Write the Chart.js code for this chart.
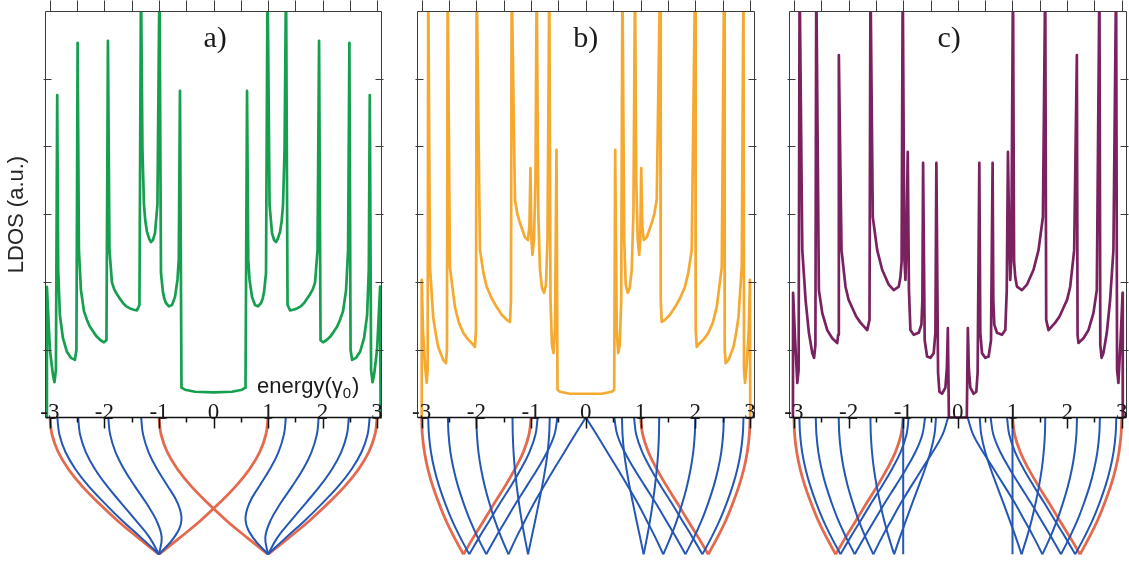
<!DOCTYPE html>
<html>
<head>
<meta charset="utf-8">
<script src="https://cdn.jsdelivr.net/npm/chart.js@4.4.0/dist/chart.umd.min.js"></script>
<style>
  html, body { margin: 0; padding: 0; background: #fff; }
  body { width: 1129px; height: 563px; position: relative; overflow: hidden; }
  canvas.panel { position: absolute; top: 0; }
</style>
</head>
<body>
<canvas id="panelA" class="panel" width="392" height="563" style="left:0px"></canvas>
<canvas id="panelB" class="panel" width="392" height="563" style="left:372px"></canvas>
<canvas id="panelC" class="panel" width="385" height="563" style="left:744px"></canvas>
<script>
// axis ticks
const energyTicks = [-3, -2, -1, 0, 1, 2, 3];
const halfTicks = [-2.5, -1.5, -0.5, 0.5, 1.5, 2.5];
const ldosTicks = [1, 2, 3, 4, 5];

// depth below the energy axis where band energies are sampled (k = 0 at the axis, k = pi at the bottom)
const kDepth = [0, -0.25, -0.51, -0.76, -1.01, -1.26, -1.52, -1.77, -2.02];

// LDOS curves, [energy, ldos]
const ldosA = [
  [-3.064,0],[-3.055,1.93],[-3.0,1.0],[-2.945,0.63],[-2.917,0.52],[-2.89,0.7],[-2.866,4.76],[-2.848,2.18],[-2.817,1.51],
  [-2.761,1.17],[-2.688,0.97],[-2.615,0.88],[-2.541,0.85],[-2.514,1.0],[-2.492,5.53],[-2.468,2.47],[-2.431,1.88],
  [-2.376,1.57],[-2.32,1.44],[-2.266,1.34],[-2.2,1.26],[-2.138,1.19],[-2.07,1.14],[-2.009,1.11],[-1.963,1.14],[-1.936,5.56],[-1.908,2.47],[-1.862,1.99],
  [-1.82,1.89],[-1.771,1.82],[-1.661,1.69],[-1.6,1.64],[-1.532,1.61],[-1.46,1.59],[-1.404,1.58],[-1.358,1.66],[-1.33,6.5],[-1.303,3.95],[-1.275,3.14],
  [-1.25,2.9],[-1.22,2.74],[-1.18,2.64],[-1.147,2.59],[-1.11,2.62],[-1.073,2.72],[-1.028,3.14],[-0.991,6.5],[-0.963,2.13],[-0.927,1.85],[-0.9,1.75],[-0.872,1.69],
  [-0.817,1.64],[-0.761,1.66],[-0.706,1.78],[-0.661,2.03],[-0.637,2.33],[-0.615,4.82],[-0.587,0.44],[-0.523,0.41],
  [-0.339,0.38],[0,0.37],
  [0.339,0.38],[0.523,0.41],[0.587,0.44],[0.615,4.82],[0.637,2.33],[0.661,2.03],[0.706,1.78],[0.761,1.66],
  [0.817,1.64],[0.872,1.69],[0.9,1.75],[0.927,1.85],[0.963,2.13],[0.991,6.5],[1.028,3.14],[1.073,2.72],[1.11,2.62],[1.147,2.59],
  [1.18,2.64],[1.22,2.74],[1.25,2.9],[1.275,3.14],[1.303,3.95],[1.33,6.5],[1.358,1.66],[1.404,1.58],[1.46,1.59],[1.532,1.61],[1.6,1.64],[1.661,1.69],
  [1.771,1.82],[1.82,1.89],[1.862,1.99],[1.908,2.47],[1.936,5.56],[1.963,1.14],[2.009,1.11],[2.07,1.14],[2.138,1.19],[2.2,1.26],[2.266,1.34],[2.32,1.44],
  [2.376,1.57],[2.431,1.88],[2.468,2.47],[2.492,5.53],[2.514,1.0],[2.541,0.85],[2.615,0.88],[2.688,0.97],
  [2.761,1.17],[2.817,1.51],[2.848,2.18],[2.866,4.76],[2.89,0.7],[2.917,0.52],[2.945,0.63],[3.0,1.0],
  [3.055,1.93],[3.064,0]
];

const ldosB = [
  [-3.003,0],[-2.998,2.03],[-2.976,1.29],[-2.939,0.78],[-2.908,0.51],[-2.89,0.7],[-2.879,6.5],[-2.848,2.22],
  [-2.788,1.48],[-2.74,1.22],[-2.697,1.04],[-2.605,0.85],[-2.556,0.8],[-2.537,1.0],[-2.525,6.5],[-2.483,2.22],[-2.391,1.63],
  [-2.32,1.4],[-2.24,1.25],[-2.16,1.16],[-2.086,1.1],[-2.026,1.04],[-2.007,1.29],[-1.995,6.5],[-1.934,2.47],[-1.87,2.13],[-1.812,1.93],[-1.72,1.76],[-1.629,1.63],
  [-1.54,1.52],[-1.446,1.44],[-1.386,1.41],[-1.368,1.73],[-1.355,6.5],[-1.295,3.21],[-1.25,3.0],[-1.203,2.87],[-1.112,2.66],[-1.057,2.62],
  [-1.03,2.84],[-1.012,3.68],[-0.993,2.62],[-0.975,2.4],[-0.948,2.62],[-0.92,3.51],[-0.898,6.5],[-0.869,3.02],
  [-0.838,2.18],[-0.801,1.91],[-0.765,1.84],[-0.728,1.96],[-0.701,2.62],[-0.668,6.5],[-0.646,1.73],[-0.619,1.07],
  [-0.591,0.95],[-0.564,1.29],[-0.536,3.95],[-0.518,0.41],[-0.472,0.38],[-0.29,0.35],[0,0.35],
  [0.29,0.35],[0.472,0.38],[0.518,0.41],[0.536,3.95],[0.564,1.29],[0.591,0.95],[0.619,1.07],[0.646,1.73],
  [0.668,6.5],[0.701,2.62],[0.728,1.96],[0.765,1.84],[0.801,1.91],[0.838,2.18],[0.869,3.02],[0.898,6.5],
  [0.92,3.51],[0.948,2.62],[0.975,2.4],[0.993,2.62],[1.012,3.68],[1.03,2.84],[1.057,2.62],[1.112,2.66],
  [1.203,2.87],[1.25,3.0],[1.295,3.21],[1.355,6.5],[1.368,1.73],[1.386,1.41],[1.446,1.44],[1.54,1.52],[1.629,1.63],[1.72,1.76],[1.812,1.93],
  [1.87,2.13],[1.934,2.47],[1.995,6.5],[2.007,1.29],[2.026,1.04],[2.086,1.1],[2.16,1.16],[2.24,1.25],[2.32,1.4],[2.391,1.63],[2.483,2.22],
  [2.525,6.5],[2.537,1.0],[2.556,0.8],[2.605,0.85],[2.697,1.04],[2.74,1.22],[2.788,1.48],[2.848,2.22],[2.879,6.5],
  [2.89,0.7],[2.908,0.51],[2.939,0.78],[2.976,1.29],[2.998,2.03],[3.003,0]
];

const ldosC = [
  [-3.018,0],[-3.015,1.84],[-2.978,1.14],[-2.938,0.51],[-2.914,0.7],[-2.896,6.5],[-2.847,2.47],[-2.786,1.73],
  [-2.726,1.25],[-2.664,0.95],[-2.631,0.88],[-2.607,1.07],[-2.591,6.5],[-2.543,1.88],[-2.481,1.54],[-2.39,1.29],
  [-2.299,1.17],[-2.207,1.1],[-2.191,1.22],[-2.178,5.35],[-2.129,2.47],[-2.056,1.93],[-2.0,1.74],[-1.933,1.62],[-1.86,1.49],[-1.782,1.4],
  [-1.659,1.29],[-1.617,1.44],[-1.599,6.5],[-1.557,2.96],[-1.476,2.47],[-1.385,2.18],[-1.264,1.96],[-1.173,1.88],
  [-1.082,1.93],[-1.051,2.07],[-1.029,2.3],[-1.009,6.5],[-0.978,2.33],[-0.959,2.03],[-0.941,2.62],[-0.917,3.92],
  [-0.895,1.88],[-0.868,1.29],[-0.808,1.22],[-0.716,1.25],[-0.667,1.37],[-0.649,1.73],[-0.636,3.76],[-0.607,1.14],
  [-0.563,0.9],[-0.503,0.88],[-0.442,0.95],[-0.411,1.25],[-0.393,3.76],[-0.362,0.66],[-0.338,0.38],[-0.289,0.35],
  [-0.228,0.44],[-0.201,0.73],[-0.183,1.32],[-0.164,0],[0,0],
  [0.164,0],[0.183,1.32],[0.201,0.73],[0.228,0.44],[0.289,0.35],[0.338,0.38],[0.362,0.66],[0.393,3.76],
  [0.411,1.25],[0.442,0.95],[0.503,0.88],[0.563,0.9],[0.607,1.14],[0.636,3.76],[0.649,1.73],[0.667,1.37],
  [0.716,1.25],[0.808,1.22],[0.868,1.29],[0.895,1.88],[0.917,3.92],[0.941,2.62],[0.959,2.03],[0.978,2.33],
  [1.009,6.5],[1.029,2.3],[1.051,2.07],[1.082,1.93],[1.173,1.88],[1.264,1.96],[1.385,2.18],[1.476,2.47],
  [1.557,2.96],[1.599,6.5],[1.617,1.44],[1.659,1.29],[1.782,1.4],[1.86,1.49],[1.933,1.62],[2.0,1.74],[2.056,1.93],[2.129,2.47],
  [2.178,5.35],[2.191,1.22],[2.207,1.1],[2.299,1.17],[2.39,1.29],[2.481,1.54],[2.543,1.88],[2.591,6.5],
  [2.607,1.07],[2.631,0.88],[2.664,0.95],[2.726,1.25],[2.786,1.73],[2.847,2.47],[2.896,6.5],[2.914,0.7],
  [2.938,0.51],[2.978,1.14],[3.015,1.84],[3.018,0]
];

// band energies at each kDepth level
const bandsA = [
  { red: true,  e: [-3, -2.962, -2.848, -2.663, -2.414, -2.111, -1.765, -1.39, -1] },
  { red: false, e: [-2.864, -2.826, -2.715, -2.535, -2.294, -2.003, -1.677, -1.333, -1] },
  { red: false, e: [-2.482, -2.447, -2.342, -2.175, -1.954, -1.697, -1.425, -1.174, -1] },
  { red: false, e: [-1.929, -1.896, -1.797, -1.643, -1.447, -1.235, -1.047, -0.95, -1] },
  { red: false, e: [-1.327, -1.292, -1.192, -1.035, -0.842, -0.66, -0.588, -0.721, -1] },
  { red: true,  e: [-1, -0.962, -0.848, -0.663, -0.414, -0.111, 0.235, 0.61, 1] },
  { red: true,  e: [3, 2.962, 2.848, 2.663, 2.414, 2.111, 1.765, 1.39, 1] },
  { red: false, e: [2.864, 2.826, 2.715, 2.535, 2.294, 2.003, 1.677, 1.333, 1] },
  { red: false, e: [2.482, 2.447, 2.342, 2.175, 1.954, 1.697, 1.425, 1.174, 1] },
  { red: false, e: [1.929, 1.896, 1.797, 1.643, 1.447, 1.235, 1.047, 0.95, 1] },
  { red: false, e: [1.327, 1.292, 1.192, 1.035, 0.842, 0.66, 0.588, 0.721, 1] },
  { red: true,  e: [1, 0.962, 0.848, 0.663, 0.414, 0.111, -0.235, -0.61, -1] }
];

const bandsB = [
  { red: true,  e: [-3, -2.987, -2.949, -2.886, -2.798, -2.687, -2.556, -2.404, -2.236] },
  { red: true,  e: [-1, -1.038, -1.142, -1.294, -1.474, -1.667, -1.863, -2.054, -2.236] },
  { red: false, e: [-2.88, -2.867, -2.83, -2.768, -2.682, -2.574, -2.444, -2.295, -2.129] },
  { red: false, e: [-0.88, -0.92, -1.03, -1.187, -1.369, -1.564, -1.759, -1.949, -2.129] },
  { red: false, e: [-2.52, -2.508, -2.474, -2.416, -2.337, -2.236, -2.115, -1.976, -1.819] },
  { red: false, e: [-0.52, -0.573, -0.708, -0.884, -1.077, -1.273, -1.465, -1.648, -1.819] },
  { red: false, e: [-2, -1.99, -1.962, -1.914, -1.848, -1.764, -1.663, -1.546, -1.414] },
  { red: false, e: [0, -0.196, -0.39, -0.581, -0.765, -0.943, -1.111, -1.269, -1.414] },
  { red: false, e: [-1.34, -1.335, -1.321, -1.297, -1.263, -1.222, -1.173, -1.117, -1.056] },
  { red: false, e: [-0.66, -0.67, -0.698, -0.742, -0.797, -0.859, -0.925, -0.991, -1.056] },
  { red: true,  e: [3, 2.987, 2.949, 2.886, 2.798, 2.687, 2.556, 2.404, 2.236] },
  { red: true,  e: [1, 1.038, 1.142, 1.294, 1.474, 1.667, 1.863, 2.054, 2.236] },
  { red: false, e: [2.88, 2.867, 2.83, 2.768, 2.682, 2.574, 2.444, 2.295, 2.129] },
  { red: false, e: [0.88, 0.92, 1.03, 1.187, 1.369, 1.564, 1.759, 1.949, 2.129] },
  { red: false, e: [2.52, 2.508, 2.474, 2.416, 2.337, 2.236, 2.115, 1.976, 1.819] },
  { red: false, e: [0.52, 0.573, 0.708, 0.884, 1.077, 1.273, 1.465, 1.648, 1.819] },
  { red: false, e: [2, 1.99, 1.962, 1.914, 1.848, 1.764, 1.663, 1.546, 1.414] },
  { red: false, e: [0, 0.196, 0.39, 0.581, 0.765, 0.943, 1.111, 1.269, 1.414] },
  { red: false, e: [1.34, 1.335, 1.321, 1.297, 1.263, 1.222, 1.173, 1.117, 1.056] },
  { red: false, e: [0.66, 0.67, 0.698, 0.742, 0.797, 0.859, 0.925, 0.991, 1.056] }
];

const bandsC = [
  { red: true,  e: [-3, -2.987, -2.949, -2.886, -2.798, -2.687, -2.556, -2.404, -2.236] },
  { red: true,  e: [-1, -1.038, -1.142, -1.294, -1.474, -1.667, -1.863, -2.054, -2.236] },
  { red: false, e: [-2.9, -2.887, -2.85, -2.787, -2.701, -2.593, -2.463, -2.313, -2.147] },
  { red: false, e: [-0.9, -0.94, -1.048, -1.204, -1.387, -1.581, -1.777, -1.967, -2.147] },
  { red: false, e: [-2.6, -2.588, -2.553, -2.494, -2.413, -2.31, -2.187, -2.045, -1.887] },
  { red: false, e: [-0.6, -0.649, -0.777, -0.948, -1.139, -1.335, -1.528, -1.713, -1.887] },
  { red: false, e: [-2.18, -2.17, -2.138, -2.087, -2.015, -1.924, -1.815, -1.689, -1.547] },
  { red: false, e: [-0.179, -0.278, -0.46, -0.656, -0.85, -1.04, -1.22, -1.39, -1.547] },
  { red: false, e: [-1.6, -1.593, -1.571, -1.536, -1.486, -1.424, -1.349, -1.263, -1.166] },
  { red: false, e: [-0.4, -0.428, -0.501, -0.602, -0.715, -0.832, -0.949, -1.061, -1.166] },
  { red: false, e: [-1, -1, -1, -1, -1, -1, -1, -1, -1] },
  { red: true,  e: [3, 2.987, 2.949, 2.886, 2.798, 2.687, 2.556, 2.404, 2.236] },
  { red: true,  e: [1, 1.038, 1.142, 1.294, 1.474, 1.667, 1.863, 2.054, 2.236] },
  { red: false, e: [2.9, 2.887, 2.85, 2.787, 2.701, 2.593, 2.463, 2.313, 2.147] },
  { red: false, e: [0.9, 0.94, 1.048, 1.204, 1.387, 1.581, 1.777, 1.967, 2.147] },
  { red: false, e: [2.6, 2.588, 2.553, 2.494, 2.413, 2.31, 2.187, 2.045, 1.887] },
  { red: false, e: [0.6, 0.649, 0.777, 0.948, 1.139, 1.335, 1.528, 1.713, 1.887] },
  { red: false, e: [2.18, 2.17, 2.138, 2.087, 2.015, 1.924, 1.815, 1.689, 1.547] },
  { red: false, e: [0.179, 0.278, 0.46, 0.656, 0.85, 1.04, 1.22, 1.39, 1.547] },
  { red: false, e: [1.6, 1.593, 1.571, 1.536, 1.486, 1.424, 1.349, 1.263, 1.166] },
  { red: false, e: [0.4, 0.428, 0.501, 0.602, 0.715, 0.832, 0.949, 1.061, 1.166] },
  { red: false, e: [1, 1, 1, 1, 1, 1, 1, 1, 1] }
];

const BLUE = '#2457b4';
const RED = '#e4694d';
const SERIF = '"Liberation Serif", "Times New Roman", serif';
const SANS = '"Liberation Sans", Arial, sans-serif';

// frame, ticks and labels for one panel: boxed LDOS on top, energy axis in the middle
const framePlugin = {
    id: 'frame',
    afterDatasetsDraw(chart, args, opts) {
        const ctx = chart.ctx;
        const xs = chart.scales.x, ys = chart.scales.y;
        const l = Math.round(xs.left) + 0.5, r = Math.round(xs.right) - 0.5;
        const t = Math.round(ys.getPixelForValue(6)) + 0.5;
        const b = Math.round(ys.getPixelForValue(0)) + 0.5;
        const px = e => Math.round(xs.getPixelForValue(e)) + 0.5;

        ctx.save();
        ctx.strokeStyle = '#3c3c3c';
        ctx.lineWidth = 1;
        ctx.beginPath();
        ctx.moveTo(l, b); ctx.lineTo(l, t); ctx.lineTo(r, t); ctx.lineTo(r, b);
        energyTicks.concat(halfTicks).forEach(e => {
            ctx.moveTo(px(e), t); ctx.lineTo(px(e), t - 11);
        });
        ldosTicks.forEach(v => {
            const y = Math.round(ys.getPixelForValue(v)) + 0.5;
            ctx.moveTo(l - 2, y); ctx.lineTo(l + 6, y);
            ctx.moveTo(r + 2, y); ctx.lineTo(r - 6, y);
        });
        ctx.stroke();

        // energy axis, ticks hang below it
        ctx.strokeStyle = '#111';
        ctx.lineWidth = 1.5;
        ctx.beginPath();
        ctx.moveTo(l, b); ctx.lineTo(r, b);
        energyTicks.forEach(e => { ctx.moveTo(px(e), b); ctx.lineTo(px(e), b + 11); });
        halfTicks.forEach(e => { ctx.moveTo(px(e), b); ctx.lineTo(px(e), b + 5); });
        ctx.stroke();

        ctx.fillStyle = '#1a1a1a';
        ctx.textAlign = 'center';
        ctx.textBaseline = 'alphabetic';
        ctx.font = '23px ' + SERIF;
        energyTicks.forEach(e => ctx.fillText(String(e), xs.getPixelForValue(e), b + 1));

        ctx.font = '30px ' + SERIF;
        ctx.fillText(opts.tag, xs.getPixelForValue(opts.tagAt), 47);

        if (opts.titles) {
            ctx.textAlign = 'left';
            ctx.font = '22px ' + SANS;
            let x = xs.getPixelForValue(0.8);
            const y = b - 25;
            ctx.fillText('energy(γ', x, y);
            x += ctx.measureText('energy(γ').width;
            ctx.font = '15px ' + SANS;
            ctx.fillText('0', x, y + 5);
            x += ctx.measureText('0').width + 1;
            ctx.font = '22px ' + SANS;
            ctx.fillText(')', x, y);

            ctx.translate(17, (t + b) / 2);
            ctx.rotate(-Math.PI / 2);
            ctx.textAlign = 'center';
            ctx.textBaseline = 'middle';
            ctx.font = '22px ' + SANS;
            ctx.fillStyle = '#262626';
            ctx.fillText('LDOS (a.u.)', 0, 0);
        }
        ctx.restore();
    }
};

function bandSet(band) {
    return {
        data: band.e.map((e, i) => ({ x: e, y: kDepth[i] })),
        borderColor: band.red ? RED : BLUE,
        borderWidth: band.red ? 2.8 : 2,
        tension: 0.4
    };
}

function drawPanel(id, ldos, color, bands, padding, frame) {
    const datasets = [{
        data: ldos.map(p => ({ x: p[0], y: p[1] })),
        borderColor: color,
        borderWidth: 2.7,
        tension: 0
    }];
    // blue bands listed first so the red ones end up underneath
    bands.filter(b => !b.red).forEach(b => datasets.push(bandSet(b)));
    bands.filter(b => b.red).forEach(b => datasets.push(bandSet(b)));

    return new Chart(document.getElementById(id).getContext('2d'), {
        type: 'line',
        data: { datasets },
        options: {
            responsive: false,
            animation: false,
            devicePixelRatio: 1,
            events: [],
            layout: { padding },
            elements: { point: { radius: 0 }, line: { borderJoinStyle: 'round' } },
            plugins: {
                legend: { display: false },
                tooltip: { enabled: false },
                frame
            },
            scales: {
                x: { type: 'linear', min: -3.09, max: 3.09, display: false },
                y: { type: 'linear', min: -2.03, max: 6, display: false }
            }
        },
        plugins: [framePlugin]
    });
}

drawPanel('panelA', ldosA, '#159f4f', bandsA,
    { left: 45, right: 10, top: 11, bottom: 8 }, { tag: 'a)', tagAt: 0.03, titles: true });
drawPanel('panelB', ldosB, '#f5a930', bandsB,
    { left: 44.7, right: 9, top: 11, bottom: 8 }, { tag: 'b)', tagAt: 0, titles: false });
drawPanel('panelC', ldosC, '#7a2160', bandsC,
    { left: 45, right: 2.3, top: 11, bottom: 8 }, { tag: 'c)', tagAt: -0.16, titles: false });
</script>
</body>
</html>
